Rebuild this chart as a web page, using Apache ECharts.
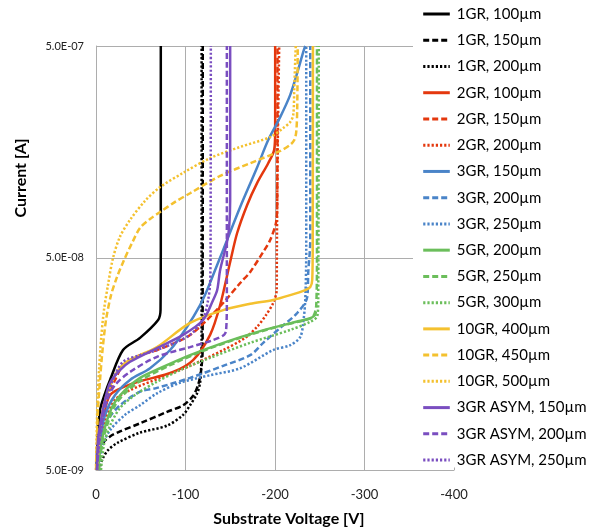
<!DOCTYPE html>
<html><head><meta charset="utf-8">
<script src="https://cdn.jsdelivr.net/npm/echarts@6/dist/echarts.min.js"></script>
<style>html,body{margin:0;padding:0;background:#fff}#c{width:592px;height:527px}</style>
</head><body><div id="c"></div>
<script>
// Substrate voltage [V], current [A]
const gr1_100 = [[-0.6,5e-9],[-1.7,6.9e-9],[-4.5,9.6e-9],[-10.1,1.15e-8],[-15.7,1.33e-8],[-30.2,1.84e-8],[-49.2,2.1e-8],[-69.4,2.55e-8],[-72.1,2.84e-8],[-72.4,5.46e-8],[-72.4,5e-7]];
const gr1_150 = [[-1.1,5e-9],[-3.4,5.9e-9],[-7.8,6.7e-9],[-15.7,7.2e-9],[-26.8,7.6e-9],[-49.2,8.3e-9],[-79.4,9.4e-9],[-97.3,1.01e-8],[-108.5,1.12e-8],[-114.1,1.26e-8],[-117.5,1.48e-8],[-119.1,1.84e-8],[-119.3,5e-7]];
const gr1_200 = [[-3.4,5e-9],[-7.8,5.7e-9],[-13.4,6.2e-9],[-23.5,6.7e-9],[-49.2,7.5e-9],[-79.4,8.1e-9],[-97.3,9.1e-9],[-105.1,1.01e-8],[-113,1.15e-8],[-116.3,1.29e-8],[-117.5,1.53e-8],[-118,2.05e-8],[-118,5e-7]];
const gr2_100 = [[-1.1,5e-9],[-4.5,6.9e-9],[-8.9,9.1e-9],[-15.7,1.13e-8],[-32.4,1.24e-8],[-49.2,1.31e-8],[-86.1,1.45e-8],[-108.5,1.65e-8],[-127.5,2.17e-8],[-138.7,3.0e-8],[-149.9,4.79e-8],[-157.7,6.56e-8],[-168.9,8.9e-8],[-180.1,1.13e-7],[-192.4,1.40e-7],[-199.1,1.62e-7],[-200.2,2.0e-7],[-200.2,5e-7]];
const gr2_150 = [[-1.1,5e-9],[-4.5,7.7e-9],[-10.1,1.07e-8],[-21.3,1.33e-8],[-30.2,1.56e-8],[-49.2,1.74e-8],[-68.2,1.84e-8],[-101.8,2.12e-8],[-121.9,2.5e-8],[-142.1,3.07e-8],[-161.1,3.81e-8],[-172.3,4.3e-8],[-186.8,5.34e-8],[-194.6,6.08e-8],[-201.3,7.4e-8],[-202.5,9.4e-8],[-202.8,5e-7]];
const gr2_200 = [[-1.1,5e-9],[-4.5,6.6e-9],[-10.1,8.6e-9],[-21.3,1.07e-8],[-38,1.19e-8],[-71.6,1.36e-8],[-105.1,1.55e-8],[-142.1,1.84e-8],[-166.7,2.1e-8],[-180.1,2.37e-8],[-190.2,2.7e-8],[-198,3.07e-8],[-201.9,3.53e-8],[-202.1,5.46e-8],[-203,1.62e-7],[-204.7,5e-7]];
const gr3_150 = [[-1.1,5e-9],[-4.5,6.9e-9],[-10.1,9.1e-9],[-21.3,1.13e-8],[-38,1.33e-8],[-60.4,1.51e-8],[-82.8,1.84e-8],[-101.8,2.37e-8],[-116.3,3.0e-8],[-124.2,3.53e-8],[-133.1,4.39e-8],[-142.1,5.46e-8],[-161.1,8.7e-8],[-180.1,1.34e-7],[-192.4,1.8e-7],[-205.8,2.31e-7],[-217,2.94e-7],[-224.8,3.73e-7],[-231.5,4.68e-7],[-233.8,5e-7]];
const gr3_200 = [[-2.2,5e-9],[-6.7,6.9e-9],[-13.4,8.6e-9],[-26.8,1.01e-8],[-49.2,1.17e-8],[-68.2,1.22e-8],[-105.1,1.36e-8],[-142.1,1.55e-8],[-172.3,1.74e-8],[-186.8,1.99e-8],[-205.8,2.34e-8],[-224.8,2.75e-8],[-236,3.27e-8],[-237.1,4.25e-8],[-239.4,6.08e-8],[-239.4,5e-7]];
const gr3_250 = [[-2.2,5e-9],[-7.8,6.6e-9],[-15.7,7.7e-9],[-32.4,9.1e-9],[-49.2,1.01e-8],[-68.2,1.15e-8],[-94,1.29e-8],[-127.5,1.40e-8],[-161.1,1.51e-8],[-198,1.84e-8],[-217,1.94e-8],[-228.2,2.12e-8],[-231.5,2.47e-8],[-233.8,3.17e-8],[-234.9,5.46e-8],[-234.9,5e-7]];
const gr5_200 = [[-2.2,5e-9],[-5.6,6.6e-9],[-11.2,8.3e-9],[-19,1.01e-8],[-32.4,1.19e-8],[-49.2,1.36e-8],[-71.6,1.51e-8],[-105.1,1.74e-8],[-142.1,1.99e-8],[-183.5,2.26e-8],[-223.7,2.5e-8],[-239.4,2.6e-8],[-245,2.7e-8],[-245.6,2.78e-8]];
const gr5_250 = [[-3.4,5e-9],[-6.7,6.6e-9],[-12.3,8.1e-9],[-21.3,1.01e-8],[-35.8,1.19e-8],[-54.8,1.36e-8],[-82.8,1.56e-8],[-116.3,1.8e-8],[-161.1,2.1e-8],[-205.8,2.39e-8],[-233.8,2.55e-8],[-242.7,2.65e-8],[-246.1,3.0e-8],[-246.9,5.46e-8],[-246.9,5e-7]];
const gr5_300 = [[-5.6,5e-9],[-8.9,6.6e-9],[-15.7,8.1e-9],[-26.8,9.8e-9],[-43.6,1.13e-8],[-66,1.29e-8],[-94,1.48e-8],[-127.5,1.69e-8],[-172.3,1.99e-8],[-217,2.29e-8],[-239.4,2.5e-8],[-247.2,2.66e-8],[-248.3,3.17e-8],[-248.9,5e-7]];
const gr10_400 = [[-1.1,5e-9],[-3.4,6.9e-9],[-6.7,9.1e-9],[-12.3,1.13e-8],[-21.3,1.40e-8],[-32.4,1.6e-8],[-49.2,1.74e-8],[-68.2,1.9e-8],[-105.1,2.47e-8],[-142.1,2.84e-8],[-172.3,3.04e-8],[-198,3.17e-8],[-217,3.34e-8],[-233.8,3.53e-8],[-239.4,3.65e-8],[-241.6,3.94e-8],[-242.2,6.08e-8],[-242.4,5e-7]];
const gr10_450 = [[0,5e-9],[-1.1,6.9e-9],[-2.2,9.6e-9],[-4.5,1.33e-8],[-7.3,1.84e-8],[-11.2,2.55e-8],[-16.8,3.34e-8],[-23.5,4.07e-8],[-31.3,4.89e-8],[-40.3,5.89e-8],[-49.2,6.93e-8],[-60.4,7.64e-8],[-71.6,8.24e-8],[-88.4,9.2e-8],[-105.1,1.01e-7],[-138.7,1.22e-7],[-172.3,1.4e-7],[-205.8,1.6e-7],[-217,1.71e-7],[-221.5,1.8e-7],[-223.7,1.96e-7],[-224.8,2.5e-7],[-225.4,5e-7]];
const gr10_500 = [[0,5e-9],[-0.6,6.9e-9],[-1.7,1.07e-8],[-3.4,1.48e-8],[-5.6,2.05e-8],[-8.9,2.84e-8],[-13.4,3.73e-8],[-19,5.0e-8],[-26.8,6.3e-8],[-38,7.56e-8],[-54.8,9.3e-8],[-71.6,1.08e-7],[-97.3,1.26e-7],[-127.5,1.48e-7],[-161.1,1.67e-7],[-194.6,1.86e-7],[-209.2,2.05e-7],[-217,2.19e-7],[-220.4,2.37e-7],[-221.5,3.1e-7],[-222.6,4.3e-7],[-223.2,5e-7]];
const asym_150 = [[-1.1,5e-9],[-2.2,6.9e-9],[-4.5,8.1e-9],[-10.1,1.07e-8],[-15.7,1.29e-8],[-26.8,1.48e-8],[-38,1.62e-8],[-68.2,1.88e-8],[-97.3,2.17e-8],[-119.7,2.55e-8],[-130.9,3.17e-8],[-135.4,3.53e-8],[-138.7,4.39e-8],[-146.2,5.9e-8],[-148.8,7.0e-8],[-149.9,9.4e-8],[-149.9,5e-7]];
const asym_200 = [[-1.1,5e-9],[-3.4,6.9e-9],[-6.7,8.6e-9],[-12.3,1.07e-8],[-21.3,1.26e-8],[-38,1.45e-8],[-68.2,1.71e-8],[-105.1,1.9e-8],[-130.9,2.05e-8],[-143.2,2.17e-8],[-145.4,2.29e-8],[-146.2,3.17e-8],[-146.2,5e-7]];
const asym_250 = [[-1.1,5e-9],[-3.4,6.6e-9],[-6.7,8.1e-9],[-12.3,1.07e-8],[-19,1.33e-8],[-30.2,1.62e-8],[-49.2,1.74e-8],[-68.2,1.84e-8],[-105.1,2.17e-8],[-119.7,2.6e-8],[-125.3,3.17e-8],[-127.5,3.81e-8],[-128,5.46e-8],[-128.3,5e-7]];

const seriesNames = ['1GR, 100µm','1GR, 150µm','1GR, 200µm','2GR, 100µm','2GR, 150µm','2GR, 200µm','3GR, 150µm','3GR, 200µm','3GR, 250µm','5GR, 200µm','5GR, 250µm','5GR, 300µm','10GR, 400µm','10GR, 450µm','10GR, 500µm','3GR ASYM, 150µm','3GR ASYM, 200µm','3GR ASYM, 250µm'];
const seriesData = [gr1_100,gr1_150,gr1_200,gr2_100,gr2_150,gr2_200,gr3_150,gr3_200,gr3_250,gr5_200,gr5_250,gr5_300,gr10_400,gr10_450,gr10_500,asym_150,asym_200,asym_250];
const xTicks = [0, -100, -200, -300, -400];
const yTicks = [5e-9, 5e-8, 5e-7];

const colors = ['#000000','#E4380E','#4A84C8','#6BBE5B','#F4C12F','#7A4EC0'];
const dashes = ['solid',[6,3],[2.2,2]];

const series = seriesNames.map((n,i)=>({
  name: n, type: 'line', data: seriesData[i], symbol: 'none', smooth: 0.3,
  lineStyle: {color: colors[Math.floor(i/3)], width: 2.5, type: dashes[i%3], cap: 'butt'},
  itemStyle: {color: colors[Math.floor(i/3)]},
  emphasis: {disabled: true}, animation: false
}));

const chart = echarts.init(document.getElementById('c'));
chart.setOption({
  animation: false,
  grid: {left: 96, right: 138, top: 46, bottom: 57, containLabel: false, outerBoundsMode: 'none'},
  xAxis: {
    type: 'value', inverse: true, min: xTicks[xTicks.length-1], max: xTicks[0], interval: 100,
    name: 'Substrate Voltage [V]', nameLocation: 'middle', nameGap: 41,
    nameTextStyle: {fontFamily: 'Lato', fontWeight: 'bold', fontSize: 16, color: '#000', padding: [0,0,0,28]},
    axisLine: {show: true, lineStyle: {color: '#ADADAD', width: 1}},
    axisTick: {show: false},
    axisLabel: {fontFamily: 'Lato', fontSize: 13, color: '#222', margin: 18},
    splitLine: {show: true, lineStyle: {color: '#ADADAD', width: 1}}
  },
  yAxis: {
    type: 'log', logBase: 10, min: yTicks[0], max: yTicks[yTicks.length-1], interval: 1,
    name: 'Current [A]', nameLocation: 'middle', nameGap: 67,
    nameTextStyle: {fontFamily: 'Lato', fontWeight: 'bold', fontSize: 16, color: '#000', padding: [0,0,0,160]},
    axisLine: {show: true, lineStyle: {color: '#ADADAD', width: 1}},
    axisTick: {show: false},
    axisLabel: {fontFamily: 'Lato', fontSize: 11, color: '#222', margin: 12,
      formatter: v => v.toExponential(1).toUpperCase().replace(/E([+-])(\d)$/, 'E$10$2')},
    splitLine: {show: true, lineStyle: {color: '#ADADAD', width: 1}}
  },
  legend: {
    show: true, orient: 'vertical', left: 413, top: 0,
    padding: [6.5, 6, 0, 8.7], backgroundColor: '#fff',
    itemWidth: 26.6, itemHeight: 15, itemGap: 11.24,
    itemStyle: {opacity: 0},
    lineStyle: {width: 3},
    textStyle: {fontFamily: 'Lato', fontSize: 15, lineHeight: 15, color: '#000', padding: [0,0,0,2]},
    data: seriesNames, selectedMode: false
  },
  series: series
});
</script></body></html>
